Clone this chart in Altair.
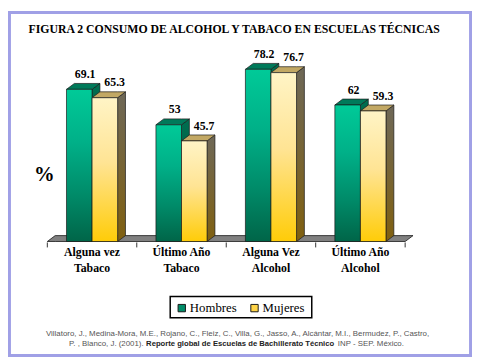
import altair as alt
import pandas as pd

# ---------------- data ----------------
TITLE = "FIGURA 2 CONSUMO DE ALCOHOL Y TABACO EN ESCUELAS TÉCNICAS"
categories = ["Alguna vez\nTabaco", "Último Año\nTabaco", "Alguna Vez\nAlcohol", "Último Año\nAlcohol"]
series = ["Hombres", "Mujeres"]
hombres = [69.1, 53, 78.2, 62]
mujeres = [65.3, 45.7, 76.7, 59.3]
y_label = "%"
foot_1 = "Villatoro, J., Medina-Mora, M.E., Rojano, C., Fleiz, C., Villa, G., Jasso, A., Alcántar, M.I., Bermudez, P., Castro,"
foot_2a = "P. , Blanco, J. (2001)."
foot_2b = "Reporte global de Escuelas de Bachillerato Técnico"
foot_2c = "INP - SEP. México."

# ---------------- geometry / style ----------------
W, H = 472, 352
XS = alt.Scale(domain=[0, len(categories)], range=[40, 404], nice=False, zero=False)
YS = alt.Scale(domain=[0, 100], range=[234.5, 10.5], nice=False, zero=False)
BAR = 26 / 91          # bar width in category units
DX = 8 / 91            # 3-D depth, x
DY = 6 / 2.24          # 3-D depth, y (value units)
SERIF = "'Liberation Serif', 'Times New Roman', Times, serif"
SANS = "'Liberation Sans', Arial, sans-serif"
EDGE = "#1a1a1a"

def grad(stops):
    return alt.LinearGradient(
        gradient="linear", x1=0, y1=0, x2=0, y2=1,
        stops=[alt.GradientStop(color=c, offset=o) for o, c in stops],
    )

style = {
    "Hombres": {
        "front": grad([(0, "#00CA98"), (0.35, "#00B088"), (0.7, "#008A68"), (1, "#006548")]),
        "side": grad([(0, "#006E50"), (1, "#004A36")]),
        "top": "#007A5A",
        "label_dx": 6,
    },
    "Mujeres": {
        "front": grad([(0, "#FFF4C6"), (0.45, "#FFE494"), (1, "#FFCC08")]),
        "side": grad([(0, "#6E6858"), (1, "#806010")]),
        "top": "#C2A864",
        "label_dx": 10,
    },
}

# ---------------- build tables ----------------
front, side, top = [], [], []
for i, cat in enumerate(categories):
    c = i + 0.5
    for s, vals, x0, x1 in [("Hombres", hombres, c - BAR, c), ("Mujeres", mujeres, c, c + BAR)]:
        v = vals[i]
        fid = f"{s}-{i}"
        front.append({"series": s, "cat": cat, "x0": x0, "x1": x1, "xc": (x0 + x1) / 2, "v": v})
        side += [
            {"series": s, "face": fid, "x": x1, "t": v, "b": 0},
            {"series": s, "face": fid, "x": x1 + DX, "t": v + DY, "b": DY},
        ]
        top += [
            {"series": s, "face": fid, "x": x0, "t": v, "b": v},
            {"series": s, "face": fid, "x": x0 + DX, "t": v + DY, "b": v},
            {"series": s, "face": fid, "x": x1, "t": v + DY, "b": v},
            {"series": s, "face": fid, "x": x1 + DX, "t": v + DY, "b": v + DY},
        ]
front = pd.DataFrame(front)
side = pd.DataFrame(side)
top = pd.DataFrame(top)
n = len(categories)
floor = pd.DataFrame({"x": [0, DX, n, n + DX], "t": [0, DY, DY, DY], "b": [0, 0, 0, DY]})
ticks = pd.DataFrame({"x": list(range(n + 1))})
cats = pd.DataFrame({"cat": categories, "xc": [i + 0.5 for i in range(n)]})
one = pd.DataFrame({"k": [0]})

layers = []

# floor
layers.append(
    alt.Chart(floor).mark_area(orient="vertical", color="#808080", stroke=EDGE, strokeWidth=0.8)
    .encode(x=alt.X("x:Q", scale=XS, axis=None), y=alt.Y("t:Q", scale=YS, axis=None), y2="b:Q")
)
# ticks under the floor
layers.append(
    alt.Chart(ticks).mark_rule(color="#333333", strokeWidth=1)
    .encode(x=alt.X("x:Q", scale=XS, axis=None), y=alt.value(235.5), y2=alt.value(240.5))
)

# bars (green first, then yellow so yellow covers green's side)
for s in series:
    st = style[s]
    layers.append(
        alt.Chart(side[side.series == s]).mark_area(orient="vertical", fill=st["side"], stroke=EDGE, strokeWidth=0.7)
        .encode(x=alt.X("x:Q", scale=XS, axis=None), y=alt.Y("t:Q", scale=YS, axis=None), y2="b:Q", detail="face:N")
    )
    layers.append(
        alt.Chart(top[top.series == s]).mark_area(orient="vertical", fill=st["top"], stroke=EDGE, strokeWidth=0.7)
        .encode(x=alt.X("x:Q", scale=XS, axis=None), y=alt.Y("t:Q", scale=YS, axis=None), y2="b:Q", detail="face:N")
    )
    layers.append(
        alt.Chart(front[front.series == s]).mark_rect(fill=st["front"], stroke=EDGE, strokeWidth=0.7)
        .encode(x=alt.X("x0:Q", scale=XS, axis=None), x2="x1:Q", y=alt.Y("v:Q", scale=YS, axis=None), y2=alt.datum(0))
    )

# value labels
for s in series:
    layers.append(
        alt.Chart(front[front.series == s]).mark_text(
            font=SERIF, fontWeight="bold", fontSize=12, color="black",
            baseline="alphabetic", dx=style[s]["label_dx"], dy=-11.5,
        ).encode(x=alt.X("xc:Q", scale=XS, axis=None), y=alt.Y("v:Q", scale=YS, axis=None),
                 text=alt.Text("v:Q", format="~g"))
    )

# category labels
layers.append(
    alt.Chart(cats).mark_text(font=SERIF, fontWeight="bold", fontSize=12, color="black",
                              baseline="top", lineBreak="\n", lineHeight=16)
    .encode(x=alt.X("xc:Q", scale=XS, axis=None), y=alt.value(240.5), text="cat:N")
)

# title, % label
layers.append(
    alt.Chart(one).mark_text(text=TITLE, font=SERIF, fontWeight="bold", fontSize=12, color="black", baseline="alphabetic")
    .encode(x=alt.value(230), y=alt.value(22))
)
layers.append(
    alt.Chart(one).mark_text(text=y_label, font=SERIF, fontWeight="bold", fontSize=21, color="black", baseline="alphabetic")
    .encode(x=alt.value(37), y=alt.value(173))
)

# legend (drawn by hand)
layers.append(
    alt.Chart(one).mark_rect(fill="white", stroke="black", strokeWidth=1.5)
    .encode(x=alt.value(165), x2=alt.value(309), y=alt.value(290.5), y2=alt.value(312))
)
leg_sq = {"Hombres": ("#008C68", 173, 185), "Mujeres": ("#FFD447", 247, 259)}
for s in series:
    col, sx, tx = leg_sq[s]
    layers.append(
        alt.Chart(one).mark_rect(fill=col, stroke=EDGE, strokeWidth=1)
        .encode(x=alt.value(sx), x2=alt.value(sx + 7.5), y=alt.value(298.5), y2=alt.value(306))
    )
    layers.append(
        alt.Chart(one).mark_text(text=s, font=SERIF, fontSize=13, color="black", align="left", baseline="alphabetic")
        .encode(x=alt.value(tx), y=alt.value(306))
    )

# footnote
FOOT = 8.0
layers.append(
    alt.Chart(one).mark_text(text=foot_1, font=SANS, fontSize=FOOT, color="#555555", baseline="alphabetic")
    .encode(x=alt.value(233.5), y=alt.value(330.5))
)
layers.append(
    alt.Chart(one).mark_text(text=foot_2a, font=SANS, fontSize=FOOT, color="#555555", align="right", baseline="alphabetic")
    .encode(x=alt.value(138), y=alt.value(340.5))
)
layers.append(
    alt.Chart(one).mark_text(text=foot_2b, font=SANS, fontSize=7.8, fontWeight="bold", color="#222222", align="left", baseline="alphabetic")
    .encode(x=alt.value(140.5), y=alt.value(340.5))
)
layers.append(
    alt.Chart(one).mark_text(text=foot_2c, font=SANS, fontSize=FOOT, color="#555555", align="left", baseline="alphabetic")
    .encode(x=alt.value(335.5), y=alt.value(340.5))
)

# frame
layers.append(
    alt.Chart(one).mark_rect(fillOpacity=0, stroke="#A0A0E6", strokeWidth=3)
    .encode(x=alt.value(1.5), x2=alt.value(W - 1.5), y=alt.value(1.5), y2=alt.value(H - 1.5))
)

chart = alt.layer(*layers).properties(
    width=W, height=H, padding=0,
    autosize=alt.AutoSizeParams(type="none"),
    background="white",
).configure_view(stroke=None)

chart.save("out.html", embed_options={"renderer": "svg", "actions": False})
